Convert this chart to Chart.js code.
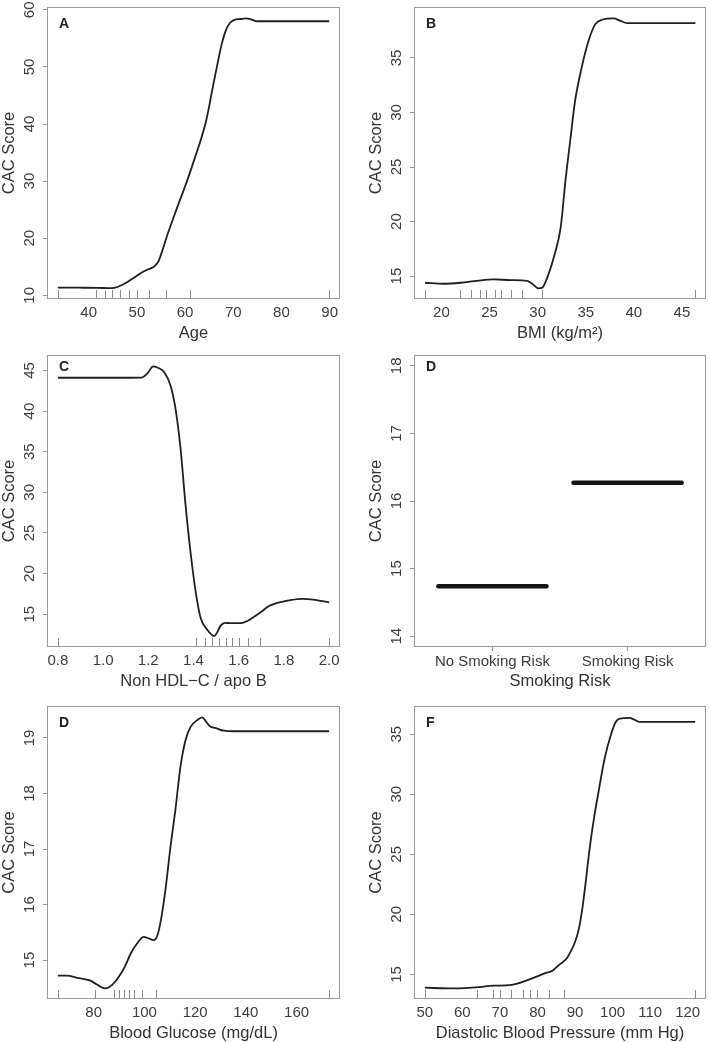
<!DOCTYPE html>
<html>
<head>
<meta charset="utf-8">
<script src="https://cdn.jsdelivr.net/npm/chart.js@4"></script>
<style>
  html, body { margin: 0; padding: 0; background: #fff; }
  body { width: 709px; height: 1042px; position: relative; overflow: hidden; }
  canvas { position: absolute; }
</style>
</head>
<body>
<canvas id="panel-a"></canvas>
<canvas id="panel-b"></canvas>
<canvas id="panel-c"></canvas>
<canvas id="panel-d"></canvas>
<canvas id="panel-e"></canvas>
<canvas id="panel-f"></canvas>
<script>
// A: age
const ageX = [33.6, 38, 42, 44, 45.5, 46.8, 48.2, 49.6, 51, 52.5, 53.7, 54.5, 55.2, 56.1, 58.2, 60.4, 62.4, 63.4, 64.3, 65.0, 65.6, 66.6, 67.6, 68.5, 69.3, 70.2, 71.5, 72.7, 73.8, 75, 77, 80, 85, 89.9];
const ageScore = [11.35, 11.33, 11.3, 11.25, 11.35, 11.75, 12.4, 13.2, 14.0, 14.6, 15.1, 16.0, 17.6, 20.0, 25.0, 30.0, 35.0, 37.6, 40.3, 43.1, 45.8, 50.0, 54.0, 56.5, 57.7, 58.25, 58.4, 58.5, 58.3, 58.0, 58.0, 58.0, 58.0, 58.0];
const ageRug = [33.6, 41.5, 43.3, 44.9, 46.6, 48.3, 50.1, 52.5, 56.1, 61.0, 89.9];
const ageTicks = [40, 50, 60, 70, 80, 90];
const ageScoreTicks = [10, 20, 30, 40, 50, 60];

// B: BMI
const bmiX = [18.3, 20.2, 22.0, 23.7, 25.4, 27.2, 28.9, 29.4, 30.1, 30.5, 31.1, 31.8, 32.4, 32.9, 33.4, 33.9, 34.6, 35.3, 36.0, 36.7, 37.9, 38.6, 39.3, 42, 46.4];
const bmiScore = [14.39, 14.3, 14.39, 14.57, 14.7, 14.63, 14.57, 14.33, 13.87, 13.96, 15.1, 17.1, 19.5, 23.8, 27.5, 31.1, 34.2, 36.6, 38.1, 38.5, 38.62, 38.4, 38.2, 38.2, 38.2];
const bmiRug = [18.27, 21.9, 23.08, 23.98, 24.68, 25.61, 26.23, 27.27, 28.38, 30.46, 46.39];
const bmiTicks = [20, 25, 30, 35, 40, 45];
const bmiScoreTicks = [15, 20, 25, 30, 35];

// C: non HDL-C / apo B
const ratioX = [0.8, 0.9, 1.0, 1.1, 1.17, 1.195, 1.222, 1.245, 1.27, 1.299, 1.321, 1.343, 1.365, 1.387, 1.41, 1.432, 1.461, 1.48, 1.491, 1.505, 1.52, 1.54, 1.565, 1.609, 1.64, 1.668, 1.7, 1.727, 1.76, 1.786, 1.83, 1.88, 1.93, 2.0];
const ratioScore = [44.1, 44.1, 44.1, 44.1, 44.12, 44.6, 45.5, 45.3, 44.8, 43.1, 40.2, 35.3, 28.4, 22.6, 17.7, 14.5, 13.1, 12.5, 12.3, 12.8, 13.6, 13.95, 13.9, 13.9, 14.2, 14.7, 15.3, 15.9, 16.3, 16.5, 16.75, 16.9, 16.8, 16.45];
const ratioRug = [0.8, 1.413, 1.45, 1.484, 1.513, 1.543, 1.572, 1.603, 1.639, 1.692, 2.0];
const ratioTicks = [0.8, 1.0, 1.2, 1.4, 1.6, 1.8, 2.0];
const ratioScoreTicks = [15, 20, 25, 30, 35, 40, 45];

// D: smoking risk (factor)
const smokingLevels = ['No Smoking Risk', 'Smoking Risk'];
const smokingScore = [14.74, 16.27];
const smokingFrom = [0.6, 1.6];
const smokingTo = [1.4, 2.4];
const smokingScoreTicks = [14, 15, 16, 17, 18];

// E: blood glucose
const glucoseX = [65.9, 69.5, 73.4, 78.7, 81.3, 84.6, 87.2, 89.9, 92.5, 94.5, 97.1, 99.7, 101.7, 103.7, 105.0, 106.3, 108.3, 110.3, 112.2, 114.2, 116.2, 118.2, 120.8, 122.8, 124.2, 125.8, 128, 131.3, 135.3, 150, 172.8];
const glucoseScore = [14.72, 14.72, 14.68, 14.63, 14.56, 14.49, 14.55, 14.7, 14.9, 15.11, 15.3, 15.42, 15.39, 15.36, 15.43, 15.67, 16.27, 17.05, 17.7, 18.48, 18.96, 19.2, 19.32, 19.37, 19.3, 19.21, 19.18, 19.13, 19.12, 19.12, 19.12];
const glucoseRug = [65.9, 80.7, 87.9, 89.9, 91.8, 93.8, 95.8, 99.1, 104.6, 172.8];
const glucoseTicks = [80, 100, 120, 140, 160];
const glucoseScoreTicks = [15, 16, 17, 18, 19];

// F: diastolic blood pressure
const dbpX = [50, 57.5, 64.6, 68.2, 72.6, 75.3, 77.9, 80.6, 82.4, 84.1, 85.9, 87.7, 89.0, 90.0, 90.8, 91.4, 92.0, 92.7, 93.4, 94.2, 95.1, 96.2, 97.9, 99.6, 100.8, 101.9, 104.5, 105.9, 107.2, 115, 122];
const dbpScore = [13.89, 13.83, 13.94, 14.06, 14.1, 14.3, 14.58, 14.92, 15.14, 15.33, 15.83, 16.3, 17.0, 17.7, 18.5, 19.4, 20.6, 22.3, 24.2, 26.2, 28.1, 30.1, 33.0, 35.0, 36.0, 36.3, 36.36, 36.19, 36.03, 36.03, 36.03];
const dbpRug = [50, 64.0, 68.2, 70.1, 73.0, 76.2, 78.1, 80.0, 83.1, 87.1, 122.0];
const dbpTicks = [50, 60, 70, 80, 90, 100, 110, 120];
const dbpScoreTicks = [15, 20, 25, 30, 35];

const FONT = '"Liberation Sans", Arial, Helvetica, sans-serif';
const TICK_FONT = { family: FONT, size: 15 };
const TITLE_FONT = { family: FONT, size: 16.5 };
const BOX_GREY = '#9a9a9a';

function curve(xs, ys) {
  return xs.map((x, i) => ({ x: x, y: ys[i] }));
}

// box, rug and panel letter
const framePlugin = {
  id: 'frame',
  afterDatasetsDraw(chart, args, opts) {
    const ctx = chart.ctx, a = chart.chartArea, x = chart.scales.x;
    ctx.save();
    ctx.strokeStyle = '#8a8a8a';
    ctx.lineWidth = 1;
    (opts.rug || []).forEach(v => {
      const px = Math.round(x.getPixelForValue(v)) + 0.5;
      ctx.beginPath();
      ctx.moveTo(px, a.bottom);
      ctx.lineTo(px, a.bottom - 9);
      ctx.stroke();
    });
    ctx.strokeStyle = BOX_GREY;
    ctx.strokeRect(a.left + 0.5, a.top + 0.5, a.right - a.left - 1, a.bottom - a.top - 1);
    ctx.fillStyle = '#222';
    ctx.font = 'bold 14px ' + FONT;
    ctx.textBaseline = 'middle';
    ctx.fillText(opts.letter, a.left + 12, a.top + opts.letterDy);
    ctx.restore();
  }
};

function makePanel(p) {
  const el = document.getElementById(p.id);
  el.width = p.w; el.height = p.h;
  el.style.left = p.left + 'px'; el.style.top = p.top + 'px';
  el.style.width = p.w + 'px'; el.style.height = p.h + 'px';

  new Chart(el, {
    type: 'scatter',
    data: { datasets: p.datasets },
    options: {
      responsive: false,
      animation: false,
      events: [],
      layout: { padding: { top: 7, right: 3, left: 0, bottom: 0 } },
      plugins: {
        legend: { display: false },
        tooltip: { enabled: false },
        frame: { rug: p.rug, letter: p.letter, letterDy: p.letterDy }
      },
      scales: {
        x: {
          type: 'linear',
          min: p.xMin, max: p.xMax,
          afterBuildTicks: s => { s.ticks = p.xTicks.map(v => ({ value: v })); },
          afterFit: s => { s.height = 44; s.paddingLeft = 0; s.paddingRight = 0; },
          border: { display: false },
          grid: { drawOnChartArea: false, drawTicks: !!p.xTickMarks, tickLength: 4, color: BOX_GREY },
          ticks: {
            autoSkip: false, maxRotation: 0, minRotation: 0,
            padding: p.xTickMarks ? 2 : 5,
            color: '#3c3c3c', font: TICK_FONT,
            callback: p.xFormat
          },
          title: { display: true, text: p.xTitle, color: '#333', font: TITLE_FONT, padding: { top: 0, bottom: 0 } }
        },
        y: {
          type: 'linear',
          min: p.yMin, max: p.yMax,
          afterBuildTicks: s => { s.ticks = p.yTicks.map(v => ({ value: v })); },
          afterFit: s => { s.width = 47; s.paddingTop = 0; s.paddingBottom = 0; },
          border: { display: false },
          grid: { drawOnChartArea: false, drawTicks: true, tickLength: 4, color: BOX_GREY },
          ticks: {
            autoSkip: false, minRotation: 90, maxRotation: 90,
            crossAlign: 'center', padding: 5,
            color: '#3c3c3c', font: TICK_FONT,
            callback: v => String(v)
          },
          title: { display: true, text: 'CAC Score', color: '#333', font: TITLE_FONT, padding: { top: 0, bottom: 0 } }
        }
      }
    },
    plugins: [framePlugin]
  });
}

function lineSet(xs, ys) {
  return [{
    data: curve(xs, ys), showLine: true, fill: false,
    borderColor: '#1f1f1f', borderWidth: 1.8, pointRadius: 0,
    cubicInterpolationMode: 'monotone'
  }];
}

const plain = v => String(v);

makePanel({
  id: 'panel-a', left: 0, top: 0, w: 343, h: 343, letter: 'A', letterDy: 17,
  datasets: lineSet(ageX, ageScore), rug: ageRug,
  xMin: 31.35, xMax: 92.15, xTicks: ageTicks, xFormat: plain, xTitle: 'Age',
  yMin: 9.35, yMax: 60.5, yTicks: ageScoreTicks
});

makePanel({
  id: 'panel-b', left: 367, top: 0, w: 342, h: 343, letter: 'B', letterDy: 17,
  datasets: lineSet(bmiX, bmiScore), rug: bmiRug,
  xMin: 17.15, xMax: 47.5, xTicks: bmiTicks, xFormat: plain, xTitle: 'BMI (kg/m\u00B2)',
  yMin: 12.9, yMax: 39.67, yTicks: bmiScoreTicks
});

makePanel({
  id: 'panel-c', left: 0, top: 348, w: 343, h: 343, letter: 'C', letterDy: 12,
  datasets: lineSet(ratioX, ratioScore), rug: ratioRug,
  xMin: 0.752, xMax: 2.048, xTicks: ratioTicks, xFormat: v => v.toFixed(1), xTitle: 'Non HDL\u2212C / apo B',
  yMin: 10.97, yMax: 46.9, yTicks: ratioScoreTicks
});

makePanel({
  id: 'panel-d', left: 367, top: 348, w: 342, h: 343, letter: 'D', letterDy: 12,
  datasets: smokingLevels.map((name, i) => ({
    label: name,
    data: [{ x: smokingFrom[i], y: smokingScore[i] }, { x: smokingTo[i], y: smokingScore[i] }],
    showLine: true, fill: false, borderColor: '#141414', borderWidth: 4.5,
    borderCapStyle: 'round', pointRadius: 0
  })),
  rug: [],
  xMin: 0.42, xMax: 2.58, xTicks: [1, 2], xTickMarks: true,
  xFormat: v => smokingLevels[v - 1], xTitle: 'Smoking Risk',
  yMin: 13.84, yMax: 18.16, yTicks: smokingScoreTicks
});

makePanel({
  id: 'panel-e', left: 0, top: 699, w: 343, h: 344, letter: 'D', letterDy: 17,
  datasets: lineSet(glucoseX, glucoseScore), rug: glucoseRug,
  xMin: 61.6, xMax: 177.1, xTicks: glucoseTicks, xFormat: plain, xTitle: 'Blood Glucose (mg/dL)',
  yMin: 14.3, yMax: 19.575, yTicks: glucoseScoreTicks
});

makePanel({
  id: 'panel-f', left: 367, top: 699, w: 342, h: 344, letter: 'F', letterDy: 17,
  datasets: lineSet(dbpX, dbpScore), rug: dbpRug,
  xMin: 47.12, xMax: 124.88, xTicks: dbpTicks, xFormat: plain, xTitle: 'Diastolic Blood Pressure (mm Hg)',
  yMin: 12.95, yMax: 37.35, yTicks: dbpScoreTicks
});
</script>
</body>
</html>
